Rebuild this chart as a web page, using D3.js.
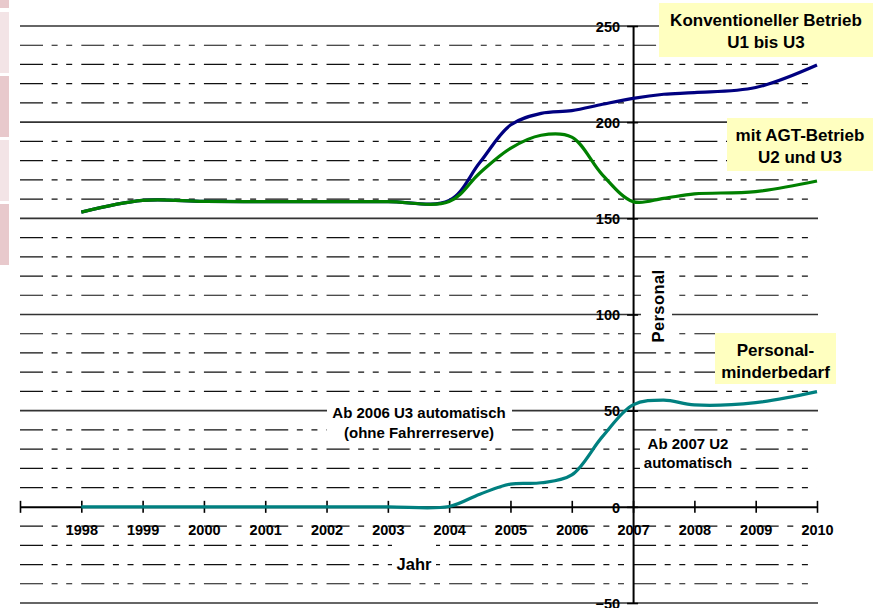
<!DOCTYPE html>
<html>
<head>
<meta charset="utf-8">
<script src="https://cdn.jsdelivr.net/npm/d3@7"></script>
<style>
  body { margin: 0; background: #fff; }
  text { font-family: "Liberation Sans", Arial, sans-serif; font-weight: bold; fill: #000; }
</style>
</head>
<body>
<script>

// data (Personal per Jahr)
const jahre = [1998, 1999, 2000, 2001, 2002, 2003, 2004, 2004.5, 2005, 2005.5, 2006, 2006.5, 2007, 2007.5, 2008, 2009, 2010];
const konventionell = [153.2, 159.3, 158.8, 158.7, 158.7, 158.7, 159.3, 179, 198.5, 204.6, 206, 209.3, 212.4, 214.5, 215.4, 218, 229.7];
const mitAgt = [153.2, 159.3, 158.8, 158.7, 158.7, 158.7, 158.7, 173.6, 186.4, 193.2, 192.2, 172.6, 158.7, 160.4, 162.7, 163.9, 169.4];
const minderbedarf = [0, 0, 0, 0, 0, 0, 0.2, 6.6, 11.8, 12.5, 16.6, 36.5, 53, 55.5, 53, 54.2, 59.9];

const achsenJahre = d3.range(1997, 2011);
const personalTicks = [250, 200, 150, 100, 50, 0, -50];

const width = 877;
const height = 608;

const svg = d3.select("body").append("svg")
  .attr("width", width)
  .attr("height", height);

const x = d3.scaleLinear().domain([1997, 2010]).range([20, 817]);
const y = d3.scaleLinear().domain([-50, 250]).range([603, 26]);
const step = x(1998) - x(1997);

// pink strip on the left edge
const strip = [[0, 8, "#e8c9cc"], [12, 73, "#f3e4e6"], [76, 137, "#e8c9cc"], [140, 201, "#f3e4e6"], [204, 265, "#e8c9cc"]];
svg.selectAll(".strip").data(strip).join("rect")
  .attr("x", 0).attr("width", 9)
  .attr("y", d => d[0]).attr("height", d => d[1] - d[0])
  .attr("fill", d => d[2]);

// gridlines
const minor = d3.range(-40, 250, 10).filter(v => v % 50 !== 0);
const major = [250, 200, 150, 100, 50, -50];

svg.selectAll(".minor").data(minor).join("line")
  .attr("x1", x(1997)).attr("x2", x(2010))
  .attr("y1", d => y(d)).attr("y2", d => y(d))
  .attr("stroke", "#111").attr("stroke-width", 1.2)
  .attr("stroke-dasharray", [23, 8.6, 6, 8.6, 6, step - 52.2].join(","));

svg.selectAll(".major").data(major).join("line")
  .attr("x1", x(1997)).attr("x2", x(2010) + 1)
  .attr("y1", d => y(d)).attr("y2", d => y(d))
  .attr("stroke", "#333").attr("stroke-width", 1.7);

// white backgrounds behind free texts
const weiss = [[327, 400, 185, 45], [640, 437, 96, 40], [641, 265, 31, 80], [392, 540, 44, 36]];
svg.selectAll(".weiss").data(weiss).join("rect")
  .attr("x", d => d[0]).attr("y", d => d[1])
  .attr("width", d => d[2]).attr("height", d => d[3])
  .attr("fill", "#fff");

// x axis
const xAxis = svg.append("g")
  .attr("transform", `translate(0,${y(0)})`)
  .call(d3.axisBottom(x)
    .tickValues(achsenJahre)
    .tickFormat(d => d === 1997 ? "" : d)
    .tickSizeOuter(0));
xAxis.select(".domain").attr("stroke", "#000").attr("stroke-width", 2);
xAxis.selectAll(".tick line").attr("y1", -6).attr("y2", 6).attr("stroke", "#000").attr("stroke-width", 1.6);
xAxis.selectAll(".tick text")
  .attr("y", 28).attr("dy", 0)
  .style("font-size", "14.5px")
  .style("font-family", "'Liberation Sans', Arial, sans-serif")
  .style("font-weight", "bold");

// y axis
const yAxis = svg.append("g")
  .attr("transform", `translate(${x(2007)},0)`)
  .call(d3.axisLeft(y)
    .tickValues(personalTicks)
    .tickSizeOuter(0));
yAxis.select(".domain").attr("stroke", "#000").attr("stroke-width", 2);
yAxis.selectAll(".tick line").attr("x1", -6).attr("x2", 5).attr("stroke", "#000").attr("stroke-width", 1.6);
yAxis.selectAll(".tick text")
  .attr("x", -13).attr("dy", "0.36em")
  .style("font-size", "14.5px")
  .style("font-family", "'Liberation Sans', Arial, sans-serif")
  .style("font-weight", "bold");

// series
const line = d3.line()
  .x(d => x(d[0]))
  .y(d => y(d[1]))
  .curve(d3.curveCatmullRom.alpha(0.5));

const series = [
  {werte: konventionell, farbe: "#000080"},
  {werte: mitAgt, farbe: "#008000"},
  {werte: minderbedarf, farbe: "#008080"}
];

svg.selectAll(".serie").data(series).join("path")
  .attr("d", s => line(jahre.map((j, i) => [j, s.werte[i]])))
  .attr("fill", "none")
  .attr("stroke", s => s.farbe)
  .attr("stroke-width", 3.2)
  .attr("stroke-linejoin", "round");

// axis titles
svg.append("text")
  .attr("x", 414).attr("y", 570)
  .attr("text-anchor", "middle")
  .style("font-size", "16.5px")
  .text("Jahr");

svg.append("text")
  .attr("transform", `translate(664,306) rotate(-90)`)
  .attr("text-anchor", "middle")
  .style("font-size", "16.5px")
  .style("letter-spacing", "0.4px")
  .text("Personal");

// annotations
const notes = [
  {x: 419, y: 418, t: "Ab 2006 U3 automatisch"},
  {x: 419, y: 438, t: "(ohne Fahrerreserve)"},
  {x: 688, y: 449, t: "Ab 2007 U2"},
  {x: 688, y: 468, t: "automatisch"}
];
svg.selectAll(".note").data(notes).join("text")
  .attr("x", d => d.x).attr("y", d => d.y)
  .attr("text-anchor", "middle")
  .style("font-size", "15px")
  .text(d => d.t);

// legend boxes
const boxes = [
  {x: 659, y: 3, w: 214, h: 54, zeilen: ["Konventioneller Betrieb", "U1 bis U3"]},
  {x: 727, y: 118, w: 146, h: 53, zeilen: ["mit AGT-Betrieb", "U2 und U3"]},
  {x: 715, y: 333, w: 121, h: 51, zeilen: ["Personal-", "minderbedarf"]}
];
const box = svg.selectAll(".box").data(boxes).join("g");
box.append("rect")
  .attr("x", d => d.x).attr("y", d => d.y)
  .attr("width", d => d.w).attr("height", d => d.h)
  .attr("fill", "#ffffc0");
box.each(function (d) {
  d3.select(this).selectAll("text").data(d.zeilen).join("text")
    .attr("x", d.x + d.w / 2)
    .attr("y", (z, i) => d.y + 23 + i * 22)
    .attr("text-anchor", "middle")
    .style("font-size", "17px")
    .text(z => z);
});

</script>
</body>
</html>
